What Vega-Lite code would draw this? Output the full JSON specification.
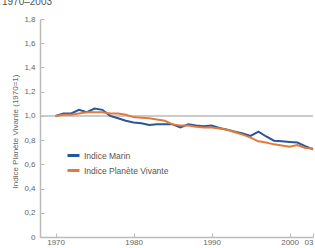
{
  "$schema": "https://vega.github.io/schema/vega-lite/v6.json",
  "width": 273,
  "height": 218,
  "autosize": {"type": "none"},
  "padding": {"left": 40, "top": 19, "right": 2, "bottom": 11},
  "background": "white",
  "title": {"text": "1970–2003", "anchor": "start", "frame": "group", "dx": -38, "offset": 8, "fontSize": 10, "fontWeight": "normal", "color": "#555555", "font": "Liberation Sans"},
  "config": {
    "view": {"stroke": null},
    "font": "Liberation Sans",
    "axis": {"grid": false, "domainColor": "#bbbbbb", "domainWidth": 1.5, "tickColor": "#bbbbbb", "tickWidth": 1, "labelColor": "#666666", "labelFontSize": 8, "titleColor": "#666666", "titleFontSize": 8, "titleFontWeight": "normal", "labelOverlap": false}
  },
  "datasets": {
    "series": [
      {"year": 1970, "v": 1.00, "s": "Indice Marin"},
      {"year": 1971, "v": 1.02, "s": "Indice Marin"},
      {"year": 1972, "v": 1.02, "s": "Indice Marin"},
      {"year": 1973, "v": 1.05, "s": "Indice Marin"},
      {"year": 1974, "v": 1.03, "s": "Indice Marin"},
      {"year": 1975, "v": 1.06, "s": "Indice Marin"},
      {"year": 1976, "v": 1.05, "s": "Indice Marin"},
      {"year": 1977, "v": 1.00, "s": "Indice Marin"},
      {"year": 1978, "v": 0.98, "s": "Indice Marin"},
      {"year": 1979, "v": 0.96, "s": "Indice Marin"},
      {"year": 1980, "v": 0.945, "s": "Indice Marin"},
      {"year": 1981, "v": 0.94, "s": "Indice Marin"},
      {"year": 1982, "v": 0.925, "s": "Indice Marin"},
      {"year": 1983, "v": 0.93, "s": "Indice Marin"},
      {"year": 1984, "v": 0.93, "s": "Indice Marin"},
      {"year": 1985, "v": 0.93, "s": "Indice Marin"},
      {"year": 1986, "v": 0.905, "s": "Indice Marin"},
      {"year": 1987, "v": 0.93, "s": "Indice Marin"},
      {"year": 1988, "v": 0.92, "s": "Indice Marin"},
      {"year": 1989, "v": 0.915, "s": "Indice Marin"},
      {"year": 1990, "v": 0.92, "s": "Indice Marin"},
      {"year": 1991, "v": 0.90, "s": "Indice Marin"},
      {"year": 1992, "v": 0.885, "s": "Indice Marin"},
      {"year": 1993, "v": 0.87, "s": "Indice Marin"},
      {"year": 1994, "v": 0.855, "s": "Indice Marin"},
      {"year": 1995, "v": 0.835, "s": "Indice Marin"},
      {"year": 1996, "v": 0.87, "s": "Indice Marin"},
      {"year": 1997, "v": 0.83, "s": "Indice Marin"},
      {"year": 1998, "v": 0.795, "s": "Indice Marin"},
      {"year": 1999, "v": 0.79, "s": "Indice Marin"},
      {"year": 2000, "v": 0.785, "s": "Indice Marin"},
      {"year": 2001, "v": 0.78, "s": "Indice Marin"},
      {"year": 2002, "v": 0.75, "s": "Indice Marin"},
      {"year": 2003, "v": 0.725, "s": "Indice Marin"},
      {"year": 1970, "v": 1.00, "s": "Indice Planète Vivante"},
      {"year": 1971, "v": 1.01, "s": "Indice Planète Vivante"},
      {"year": 1972, "v": 1.01, "s": "Indice Planète Vivante"},
      {"year": 1973, "v": 1.02, "s": "Indice Planète Vivante"},
      {"year": 1974, "v": 1.03, "s": "Indice Planète Vivante"},
      {"year": 1975, "v": 1.03, "s": "Indice Planète Vivante"},
      {"year": 1976, "v": 1.03, "s": "Indice Planète Vivante"},
      {"year": 1977, "v": 1.02, "s": "Indice Planète Vivante"},
      {"year": 1978, "v": 1.02, "s": "Indice Planète Vivante"},
      {"year": 1979, "v": 1.01, "s": "Indice Planète Vivante"},
      {"year": 1980, "v": 0.99, "s": "Indice Planète Vivante"},
      {"year": 1981, "v": 0.985, "s": "Indice Planète Vivante"},
      {"year": 1982, "v": 0.98, "s": "Indice Planète Vivante"},
      {"year": 1983, "v": 0.97, "s": "Indice Planète Vivante"},
      {"year": 1984, "v": 0.96, "s": "Indice Planète Vivante"},
      {"year": 1985, "v": 0.93, "s": "Indice Planète Vivante"},
      {"year": 1986, "v": 0.92, "s": "Indice Planète Vivante"},
      {"year": 1987, "v": 0.92, "s": "Indice Planète Vivante"},
      {"year": 1988, "v": 0.91, "s": "Indice Planète Vivante"},
      {"year": 1989, "v": 0.905, "s": "Indice Planète Vivante"},
      {"year": 1990, "v": 0.905, "s": "Indice Planète Vivante"},
      {"year": 1991, "v": 0.895, "s": "Indice Planète Vivante"},
      {"year": 1992, "v": 0.885, "s": "Indice Planète Vivante"},
      {"year": 1993, "v": 0.865, "s": "Indice Planète Vivante"},
      {"year": 1994, "v": 0.845, "s": "Indice Planète Vivante"},
      {"year": 1995, "v": 0.82, "s": "Indice Planète Vivante"},
      {"year": 1996, "v": 0.79, "s": "Indice Planète Vivante"},
      {"year": 1997, "v": 0.78, "s": "Indice Planète Vivante"},
      {"year": 1998, "v": 0.765, "s": "Indice Planète Vivante"},
      {"year": 1999, "v": 0.755, "s": "Indice Planète Vivante"},
      {"year": 2000, "v": 0.745, "s": "Indice Planète Vivante"},
      {"year": 2001, "v": 0.76, "s": "Indice Planète Vivante"},
      {"year": 2002, "v": 0.735, "s": "Indice Planète Vivante"},
      {"year": 2003, "v": 0.73, "s": "Indice Planète Vivante"}
    ],
    "ref": [{"y": 1.0}]
  },
  "layer": [
    {
      "data": {"name": "ref"},
      "mark": {"type": "rule", "color": "#bbbbbb", "strokeWidth": 1.5},
      "encoding": {
        "y": {"field": "y", "type": "quantitative", "scale": {"domain": [0, 1.8], "nice": false},
          "axis": {"title": "Indice Planète Vivante (1970=1)", "values": [0, 0.2, 0.4, 0.6, 0.8, 1.0, 1.2, 1.4, 1.6, 1.8], "labelExpr": "datum.value == 0 ? '0' : replace(format(datum.value, '.1f'), '.', ',')", "tickSize": -4, "labelPadding": 9, "labelOverlap": false, "titleX": -25, "titleY": 112, "titleBaseline": "middle", "titleAlign": "center"}}
      }
    },
    {
      "data": {"name": "series"},
      "mark": {"type": "line", "strokeWidth": 2},
      "encoding": {
        "x": {"field": "year", "type": "quantitative", "scale": {"domain": [1968, 2003], "nice": false, "zero": false},
          "axis": {"title": null, "values": [1970, 1980, 1990, 2000, 2003], "labelExpr": "datum.value == 2003 ? '03' : datum.label", "format": "d", "tickSize": -4, "labelPadding": 5, "labelFlush": true, "labelOverlap": false}},
        "y": {"field": "v", "type": "quantitative", "scale": {"domain": [0, 1.8], "nice": false},
          "axis": {"title": "Indice Planète Vivante (1970=1)", "values": [0, 0.2, 0.4, 0.6, 0.8, 1.0, 1.2, 1.4, 1.6, 1.8], "labelExpr": "datum.value == 0 ? '0' : replace(format(datum.value, '.1f'), '.', ',')", "tickSize": -4, "labelPadding": 9, "labelOverlap": false, "titleX": -25, "titleY": 112, "titleBaseline": "middle", "titleAlign": "center"}},
        "color": {"field": "s", "type": "nominal", "sort": ["Indice Marin", "Indice Planète Vivante"],
          "scale": {"domain": ["Indice Marin", "Indice Planète Vivante"], "range": ["#2a5599", "#e07b3c"]},
          "legend": {"title": null, "orient": "none", "legendX": 26, "legendY": 129, "symbolType": "stroke", "symbolSize": 144, "symbolStrokeWidth": 3, "labelFontSize": 8.5, "labelColor": "#555555", "rowPadding": 1, "padding": 0, "labelOffset": 3}}
      }
    }
  ]
}
